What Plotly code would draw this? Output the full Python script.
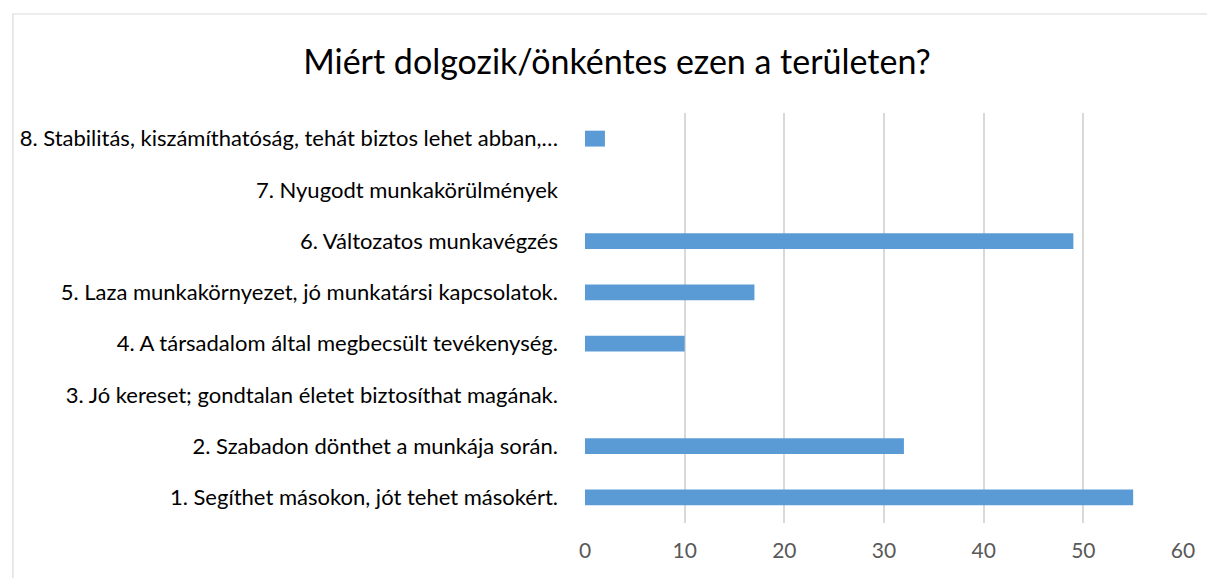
import plotly.graph_objects as go

categories = [
    "1. Segíthet másokon, jót tehet másokért.",
    "2. Szabadon dönthet a munkája során.",
    "3. Jó kereset; gondtalan életet biztosíthat magának.",
    "4. A társadalom által megbecsült tevékenység.",
    "5. Laza munkakörnyezet, jó munkatársi kapcsolatok.",
    "6. Változatos munkavégzés",
    "7. Nyugodt munkakörülmények",
    "8. Stabilitás, kiszámíthatóság, tehát biztos lehet abban,…",
]
values = [55, 32, 0, 10, 17, 49, 0, 2]
x_ticks = [0, 10, 20, 30, 40, 50, 60]
title = "Miért dolgozik/önkéntes ezen a területen?"

# page body has an 8px margin: work in figure coordinates (page - 8)
OFF = 8
W, H = 1215 - OFF, 578 - OFF
L = 583 - OFF
R = W - (1183 - OFF)
T = 113 - OFF
B = H - (523 - OFF)
pw, ph = W - L - R, H - T - B

def px_x(px):
    return (px - OFF - L) / pw

def px_y(py):
    return (H - B - (py - OFF)) / ph

fig = go.Figure()
fig.add_trace(go.Bar(
    y=categories, x=values, orientation="h",
    marker=dict(color="#5B9BD5", line=dict(width=0)),
    width=0.31,
))

fig.add_shape(type="rect", xref="paper", yref="paper",
              x0=px_x(9), x1=px_x(1214),
              y0=px_y(600), y1=px_y(14),
              line=dict(color="#D9D9D9", width=1.2), fillcolor="rgba(0,0,0,0)",
              layer="below")

FONT = "Lato, 'Open Sans', sans-serif"
fig.update_layout(
    width=W, height=H,
    margin=dict(l=L, r=R, t=T, b=B),
    paper_bgcolor="white", plot_bgcolor="white",
    font=dict(family=FONT, size=16, color="#000000"),
    title=dict(text=title, x=(617 - OFF) / W, xanchor="center",
               y=1 - (62 - OFF) / H, yanchor="middle",
               font=dict(size=34, color="#000000", family=FONT)),
    showlegend=False,
)
fig.update_xaxes(
    range=[0, 60], tickvals=x_ticks, showgrid=True, gridcolor="#D9D9D9", gridwidth=1.8,
    zeroline=False, showline=False, ticks="", tickfont=dict(size=21, color="#595959"),
    ticklabelstandoff=13, fixedrange=True,
)
fig.update_yaxes(
    categoryorder="array", categoryarray=categories,
    showgrid=False, zeroline=False, showline=False, ticks="",
    tickfont=dict(size=22, color="#000000"), ticklabelstandoff=26,
    range=[-0.5, 7.5],
)
fig.write_html("out.html")
